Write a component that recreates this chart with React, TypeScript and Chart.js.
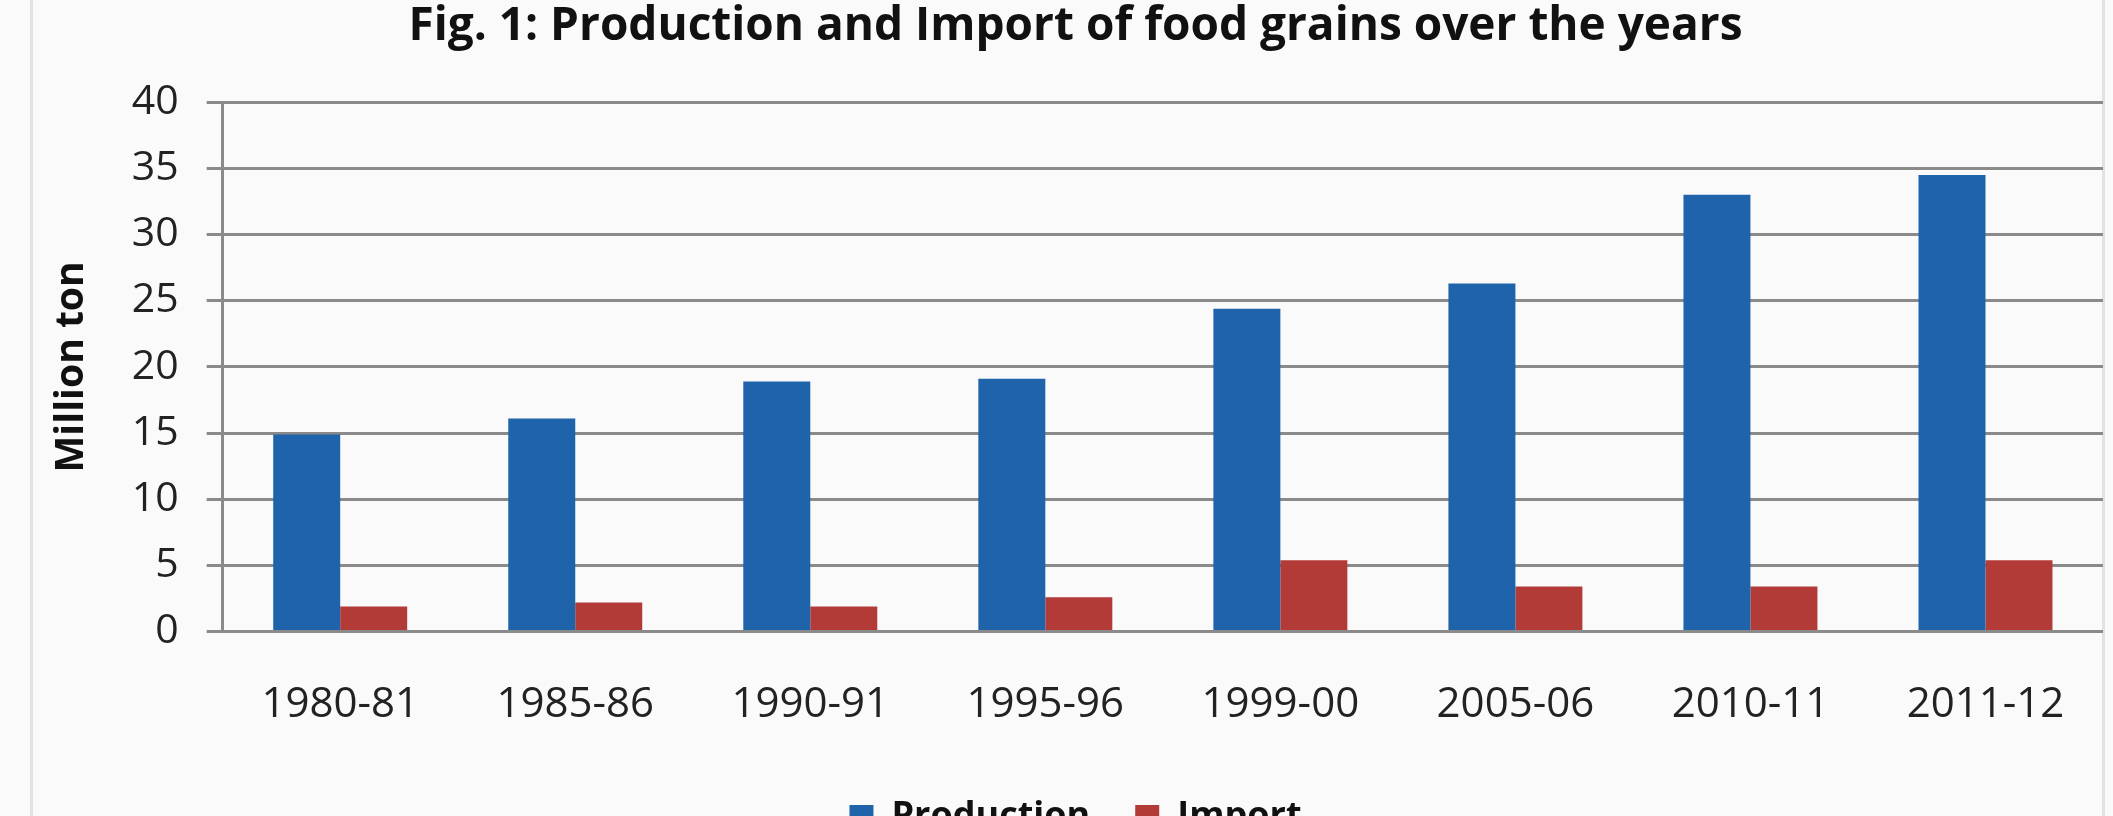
import React, { useEffect, useRef } from "react";
import { Chart, registerables } from "chart.js";

Chart.register(...registerables);

const categories = ["1980-81", "1985-86", "1990-91", "1995-96", "1999-00", "2005-06", "2010-11", "2011-12"];
const production = [14.9, 16.1, 18.9, 19.1, 24.4, 26.3, 33.0, 34.5];
const importValues = [1.9, 2.2, 1.9, 2.6, 5.4, 3.4, 3.4, 5.4];
const seriesNames = ["Production", "Import"];
const yMin = 0;
const yMax = 40;
const yStep = 5;
const titleText = "Fig. 1: Production and Import of food grains over the years";
const yAxisTitle = "Million ton";

const BLUE = "#1f63ab";
const RED = "#b23b37";
const GRID = "#8a8a8a";
const FONT = "'Open Sans', 'DejaVu Sans', sans-serif";

export default function App() {
  const ref = useRef<HTMLCanvasElement | null>(null);

  useEffect(() => {
    document.body.style.margin = "0";
    document.body.style.overflow = "hidden";
    document.body.style.background = "#fafafa";
    const canvas = ref.current;
    if (!canvas) return;
    const chart = new Chart(canvas, {
      type: "bar",
      data: {
        labels: categories,
        datasets: [
          { label: seriesNames[0], data: production, backgroundColor: BLUE, borderWidth: 0 },
          { label: seriesNames[1], data: importValues, backgroundColor: RED, borderWidth: 0 },
        ],
      },
      options: {
        animation: false,
        responsive: false,
        maintainAspectRatio: false,
        layout: { padding: { left: 48, right: 10, top: 0, bottom: 0 } },
        datasets: { bar: { categoryPercentage: 0.57, barPercentage: 1.0 } },
        plugins: {
          title: {
            display: true,
            text: titleText,
            color: "#111",
            font: { family: FONT, size: 46, weight: "bold" },
            padding: { top: 7, bottom: 48 },
          },
          legend: {
            display: true,
            position: "bottom",
            labels: {
              color: "#111",
              font: { family: FONT, size: 36, weight: "bold" },
              boxWidth: 24,
              boxHeight: 24,
              padding: 45,
            },
          },
          tooltip: { enabled: false },
        },
        scales: {
          x: {
            grid: { display: false, drawTicks: false },
            border: { display: false },
            ticks: { color: "#222", font: { family: FONT, size: 42 }, padding: 48, maxRotation: 0 },
            afterFit: (scale: any) => {
              scale.height -= 24;
            },
          },
          y: {
            min: yMin,
            max: yMax,
            ticks: { stepSize: yStep, color: "#222", font: { family: FONT, size: 41 }, padding: 28 },
            grid: { color: GRID, lineWidth: 3, drawTicks: true, tickLength: 16, tickColor: GRID },
            border: { display: true, color: GRID, width: 3 },
            title: {
              display: true,
              text: yAxisTitle,
              color: "#111",
              font: { family: FONT, size: 39, weight: "bold" },
              padding: { top: 0, bottom: 9 },
            },
          },
        },
      },
    });
    return () => chart.destroy();
  }, []);

  return (
    <div style={{ position: "relative", width: 2113, height: 816, overflow: "hidden", background: "#fafafa" }}>
      <div
        style={{
          position: "absolute",
          left: 30,
          top: 0,
          width: 2075,
          height: 816,
          borderLeft: "3px solid #e2e2e2",
          borderRight: "3px solid #e2e2e2",
          boxSizing: "border-box",
        }}
      />
      <canvas
        ref={ref}
        width={2113}
        height={853}
        style={{ position: "absolute", left: 0, top: -8, width: 2113, height: 853 }}
      />
    </div>
  );
}
